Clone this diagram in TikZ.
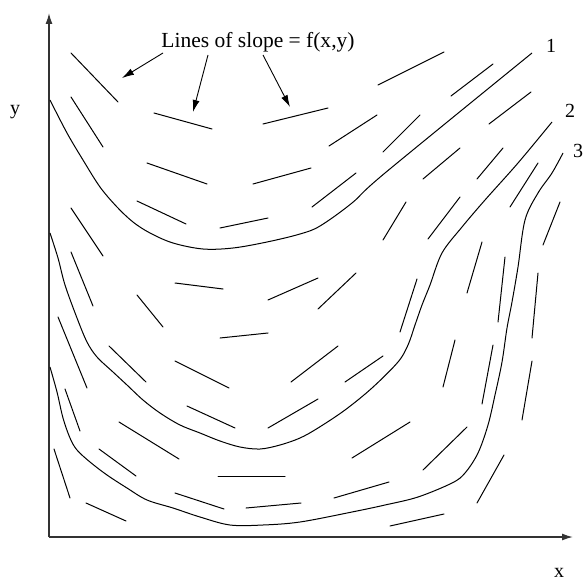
\documentclass[tikz,border=0pt]{standalone}
\usepackage{fontspec}
\setmainfont{Liberation Serif}
\usetikzlibrary{arrows.meta}
\begin{document}
\begin{tikzpicture}[x=1pt,y=-1pt,
  seg/.style={line width=1pt,line cap=round},
  curve/.style={line width=1pt,smooth,tension=0.55},
  axis/.style={line width=1.4pt,draw=black!80,-{Latex[length=11pt,width=7pt]}},
  pointer/.style={line width=0.9pt,-{Latex[length=12pt,width=7pt]}},
  lbl/.style={font=\fontsize{20}{23}\selectfont,inner sep=0pt},
  ttl/.style={font=\fontsize{21.5}{25}\selectfont,inner sep=0pt}]
\useasboundingbox (0,0) rectangle (585,583);
% axes
\coordinate (O) at (49,537);
\coordinate (Ytop) at (49,13);
\coordinate (Xend) at (573,537);
\draw[axis] (O) -- (Ytop);
\draw[axis] (O) -- (Xend);
\node[lbl] (ylab) at (15,112) {y};
\node[lbl] (xlab) at (559,573) {x};
% title and pointers
\node[ttl] (title) at (258,42) {Lines of slope = f(x,y)};
\coordinate (p1s) at (163,53); \coordinate (p1e) at (122,78);
\coordinate (p2s) at (208,55); \coordinate (p2e) at (193,112);
\coordinate (p3s) at (263,55); \coordinate (p3e) at (290,107);
\draw[pointer] (p1s) -- (p1e);
\draw[pointer] (p2s) -- (p2e);
\draw[pointer] (p3s) -- (p3e);
% curve labels
\node[lbl] (c1) at (551,46) {1};
\node[lbl] (c2) at (570,111) {2};
\node[lbl] (c3) at (578,151) {3};
% slope segments
\foreach \a/\b/\c/\d in {
 71/53/118/102, 71/97/103/147, 154/113/212/129, 263/124/328/108,
 147/163/207/184, 253/184/311/168, 137/201/186/224, 220/228/268/218,
 71/208/103/256, 71/252/93/306, 175/283/223/289, 137/295/163/327,
 268/300/318/278, 378/85/444/52, 451/96/493/64, 489/124/531/92,
 329/146/377/115, 383/152/420/115, 423/179/460/148, 477/179/503/148,
 510/207/538/163, 312/207/356/173, 383/240/406/202, 428/239/460/197,
 543/245/560/202, 467/293/482/242, 498/322/505/257, 532/338/538/273,
 318/309/356/273, 400/332/417/279, 291/382/338/346, 345/382/383/356,
 443/387/455/340, 482/404/493/345, 522/420/532/361, 268/428/318/399,
 352/458/410/422, 423/470/467/427, 477/503/504/455, 334/498/389/482,
 246/508/301/503, 390/526/444/514, 58/317/87/388, 65/389/80/431,
 54/449/70/498, 86/503/126/521, 99/449/136/476, 119/422/179/459,
 109/346/146/382, 175/361/229/388, 187/406/235/428, 220/338/268/333,
 218/476/285/476, 175/493/224/509}
 \draw[seg] (\a,\b) -- (\c,\d);
% solution curves
\draw[curve] plot coordinates {(50,100) (67,133) (83,160) (100,187) (117,207) (133,222) (150,233) (173,243) (203,249) (233,248) (267,242) (300,234) (320,226) (352,203) (385,173) (532,53)};
\draw[curve] plot coordinates {(50,233) (58,258) (65,285) (77,318) (87,342) (97,357) (113,372) (127,385) (143,400) (160,413) (180,425) (200,433) (220,441) (240,447) (260,449) (280,445) (300,438) (318,428) (345,410) (372,388) (398,362) (408,345) (415,325) (422,305) (430,285) (442,253) (462,227) (485,200) (518,163) (552,122)};
\draw[curve] plot coordinates {(50,367) (57,392) (63,418) (70,438) (77,450) (90,462) (107,475) (127,488) (147,500) (173,508) (200,517) (230,525) (263,525) (300,522) (352,512) (385,505) (418,497) (452,483) (465,473) (478,453) (488,425) (495,395) (502,362) (507,328) (512,302) (518,267) (525,220) (538,193) (552,173) (563,153)};
\end{tikzpicture}
\end{document}
